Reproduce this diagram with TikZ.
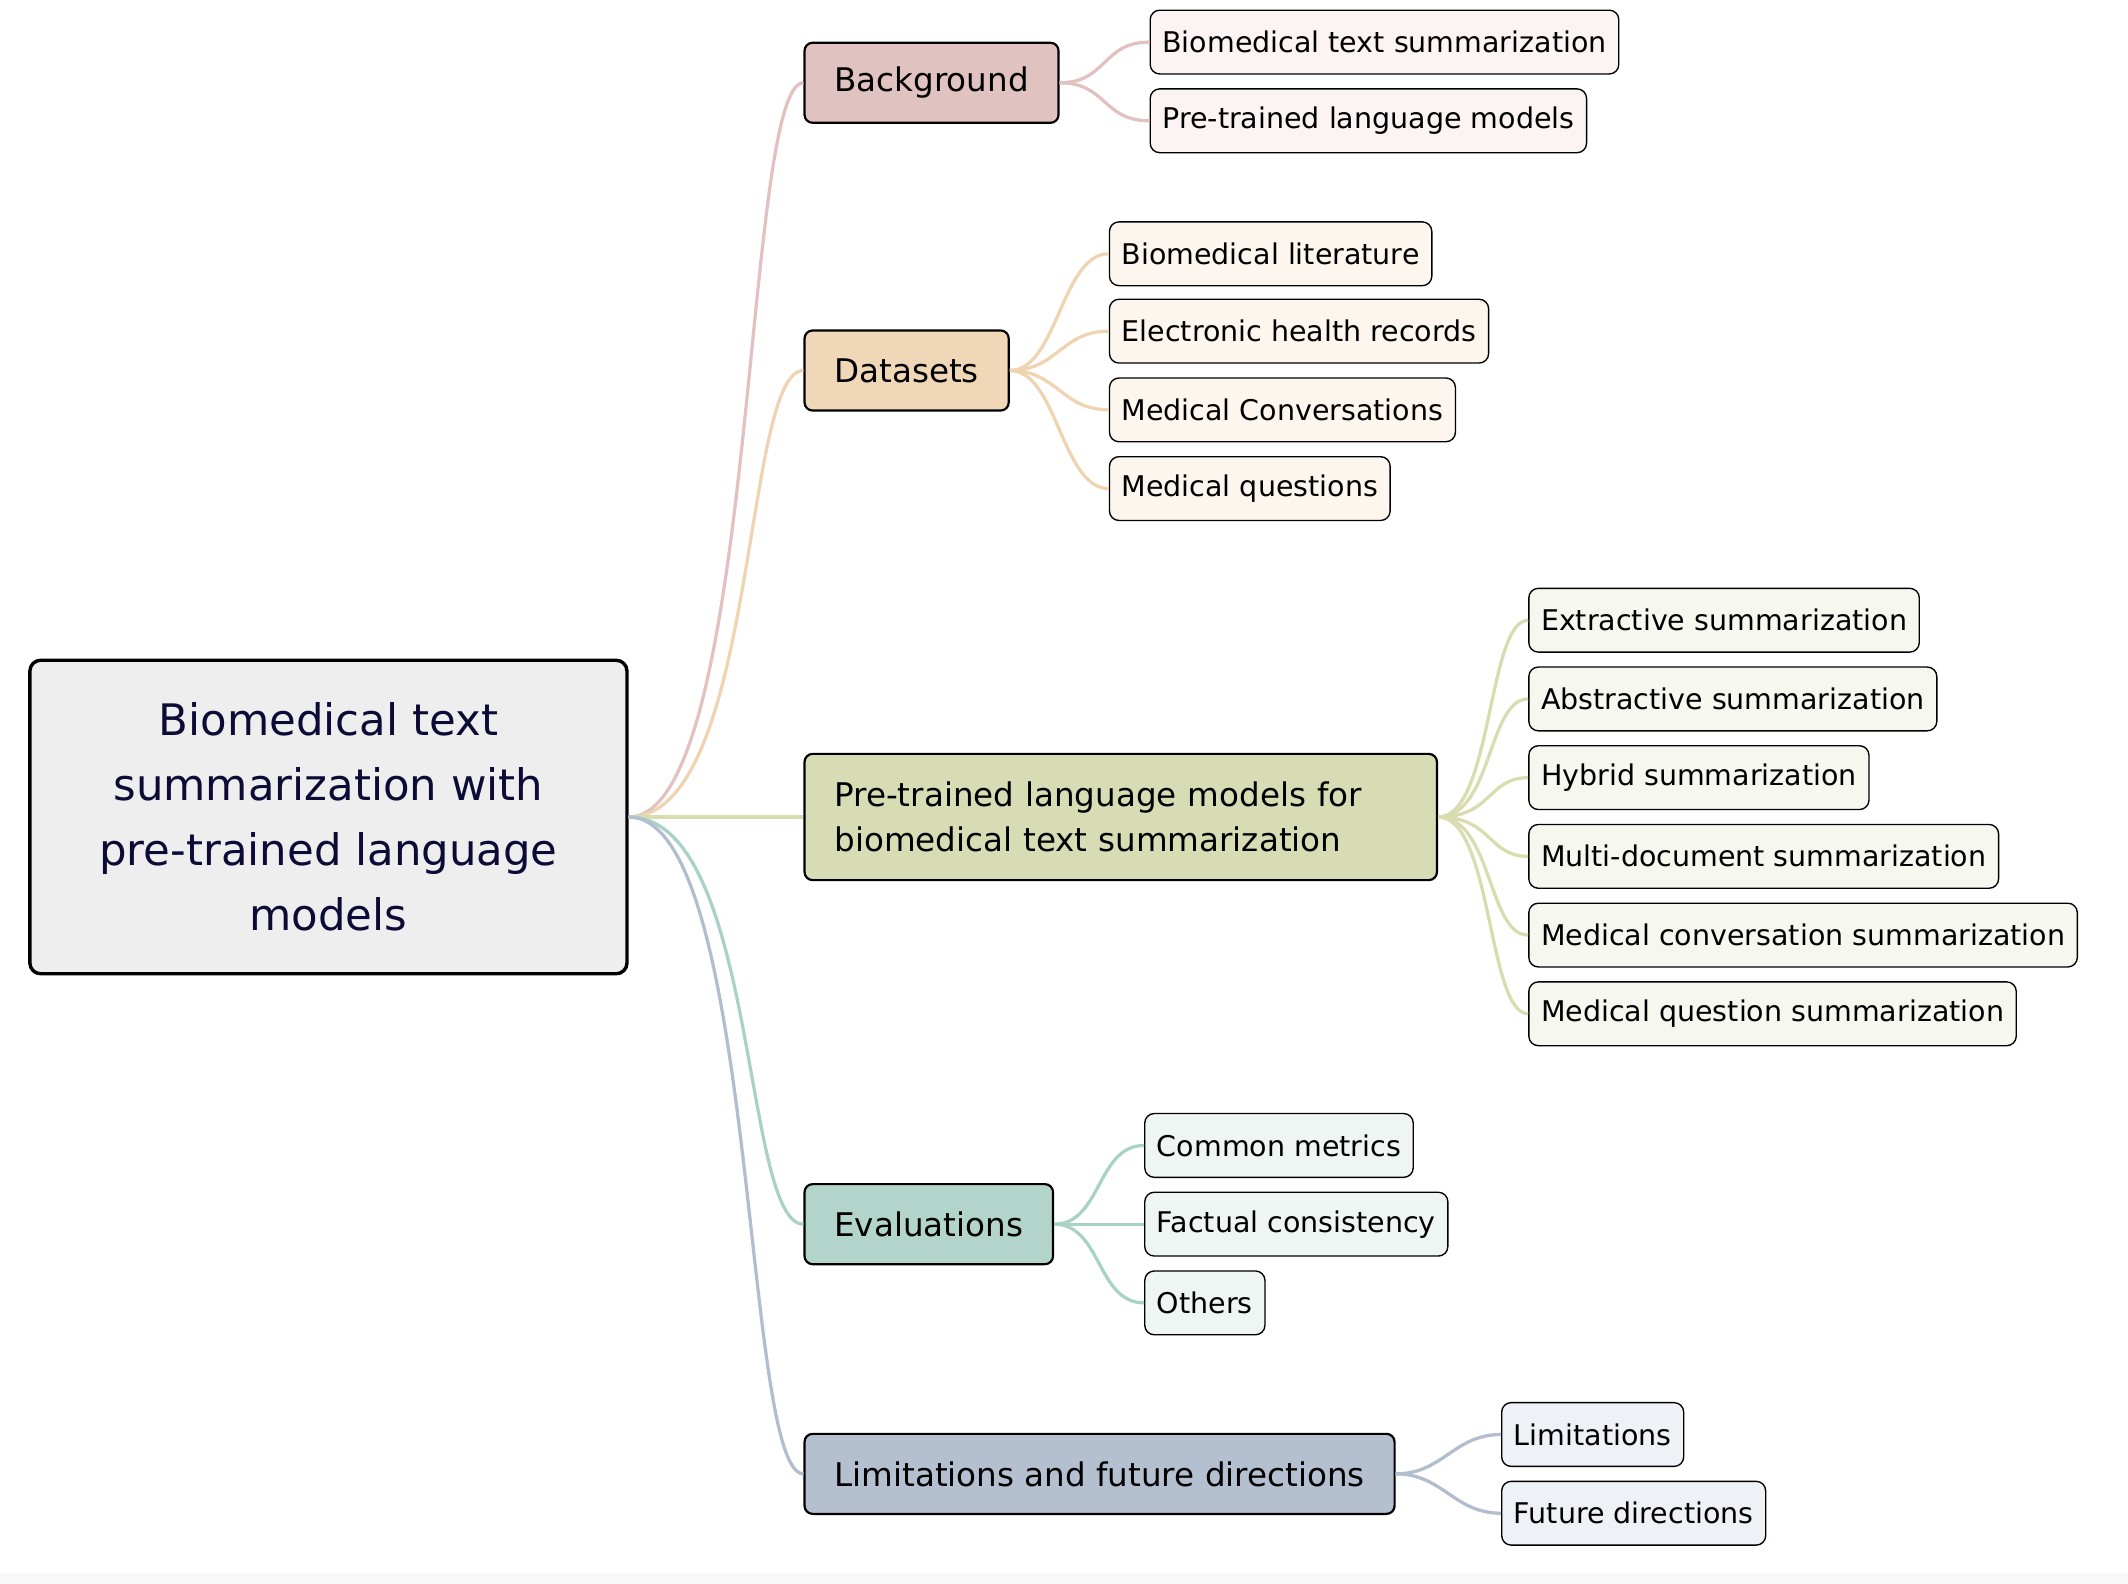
\documentclass[tikz,border=0pt]{standalone}
\usepackage{fontspec}
\setmainfont{DejaVu Sans}
\usepackage{tikz}
\definecolor{inkblue}{HTML}{0B0B35}
\definecolor{rootfill}{HTML}{EEEEEE}
\definecolor{bgmain}{HTML}{E0C3C1}
\definecolor{bgleaf}{HTML}{FBF4F2}
\definecolor{bgline}{HTML}{E2C2C0}
\definecolor{dsmain}{HTML}{EFD7B8}
\definecolor{dsleaf}{HTML}{FDF6EE}
\definecolor{dsline}{HTML}{EED4B0}
\definecolor{plmmain}{HTML}{D8DCB5}
\definecolor{plmleaf}{HTML}{F6F7EE}
\definecolor{plmline}{HTML}{D8DCAE}
\definecolor{evmain}{HTML}{B2D4CB}
\definecolor{evleaf}{HTML}{EEF5F3}
\definecolor{evline}{HTML}{A9D2C6}
\definecolor{limmain}{HTML}{B4BFCF}
\definecolor{limleaf}{HTML}{EEF1F6}
\definecolor{limline}{HTML}{B2BDCE}

\begin{document}
\begin{tikzpicture}[
    x=1pt, y=-1pt,
    root/.style={draw, line width=2.5pt, rounded corners=8pt, fill=rootfill, text=inkblue, font=\fontsize{32}{48}\selectfont, align=center, minimum width=440pt, minimum height=231pt},
    topic/.style={draw, line width=1.6pt, rounded corners=6pt, fill=#1, font=\fontsize{24}{33}\selectfont, minimum height=59pt, inner xsep=22pt, anchor=west},
    leaf/.style={draw, line width=1pt, rounded corners=7pt, fill=#1, font=\fontsize{21}{24}\selectfont, minimum height=47pt, inner xsep=9pt, anchor=west},
    link/.style={line width=2.4pt, #1}
]
\useasboundingbox (0,0) rectangle (1568,1167);
\fill[gray!5] (0,1159) rectangle (1568,1167);

\node[root] (summ) at (242, 602) {Biomedical text\\summarization with\\pre-trained language\\models};

% topics
\node[topic=bgmain] (bg) at (592, 61) {Background};
\node[topic=dsmain] (ds) at (592, 273) {Datasets};
\node[topic=plmmain, text width=422pt, align=left, minimum height=93pt] (plm) at (592, 602) {Pre-trained language models for\\biomedical text summarization};
\node[topic=evmain] (ev) at (592, 902) {Evaluations};
\node[topic=limmain] (lim) at (592, 1086) {Limitations and future directions};

\draw[link=bgline] (summ.east) .. controls +(95,0) and +(-45,0) .. (bg.west);
\draw[link=dsline] (summ.east) .. controls +(95,0) and +(-45,0) .. (ds.west);
\draw[link=plmline] (summ.east) -- (plm.west);
\draw[link=evline] (summ.east) .. controls +(95,0) and +(-45,0) .. (ev.west);
\draw[link=limline] (summ.east) .. controls +(95,0) and +(-45,0) .. (lim.west);

% background
\node[leaf=bgleaf] (bgtext) at (847, 31) {Biomedical text summarization};
\node[leaf=bgleaf] (bgplm) at (847, 89) {Pre-trained language models};
\draw[link=bgline] (bg.east) .. controls +(35,0) and +(-35,0) .. (bgtext.west);
\draw[link=bgline] (bg.east) .. controls +(35,0) and +(-35,0) .. (bgplm.west);

% datasets
\node[leaf=dsleaf] (dslit) at (817, 187) {Biomedical literature};
\node[leaf=dsleaf] (dsehr) at (817, 244) {Electronic health records};
\node[leaf=dsleaf] (dsconv) at (817, 302) {Medical Conversations};
\node[leaf=dsleaf] (dsques) at (817, 360) {Medical questions};
\draw[link=dsline] (ds.east) .. controls +(35,0) and +(-35,0) .. (dslit.west);
\draw[link=dsline] (ds.east) .. controls +(35,0) and +(-35,0) .. (dsehr.west);
\draw[link=dsline] (ds.east) .. controls +(35,0) and +(-35,0) .. (dsconv.west);
\draw[link=dsline] (ds.east) .. controls +(35,0) and +(-35,0) .. (dsques.west);

% methods
\node[leaf=plmleaf] (extr) at (1126, 457) {Extractive summarization};
\node[leaf=plmleaf] (abst) at (1126, 515) {Abstractive summarization};
\node[leaf=plmleaf] (hybr) at (1126, 573) {Hybrid summarization};
\node[leaf=plmleaf] (multi) at (1126, 631) {Multi-document summarization};
\node[leaf=plmleaf] (mconv) at (1126, 689) {Medical conversation summarization};
\node[leaf=plmleaf] (mques) at (1126, 747) {Medical question summarization};
\draw[link=plmline] (plm.east) .. controls +(40,0) and +(-30,0) .. (extr.west);
\draw[link=plmline] (plm.east) .. controls +(40,0) and +(-30,0) .. (abst.west);
\draw[link=plmline] (plm.east) .. controls +(40,0) and +(-30,0) .. (hybr.west);
\draw[link=plmline] (plm.east) .. controls +(40,0) and +(-30,0) .. (multi.west);
\draw[link=plmline] (plm.east) .. controls +(40,0) and +(-30,0) .. (mconv.west);
\draw[link=plmline] (plm.east) .. controls +(40,0) and +(-30,0) .. (mques.west);

% evaluations
\node[leaf=evleaf] (metr) at (843, 844) {Common metrics};
\node[leaf=evleaf] (fact) at (843, 902) {Factual consistency};
\node[leaf=evleaf] (othr) at (843, 960) {Others};
\draw[link=evline] (ev.east) .. controls +(35,0) and +(-35,0) .. (metr.west);
\draw[link=evline] (ev.east) -- (fact.west);
\draw[link=evline] (ev.east) .. controls +(35,0) and +(-35,0) .. (othr.west);

% limitations
\node[leaf=limleaf] (limi) at (1106, 1057) {Limitations};
\node[leaf=limleaf] (futu) at (1106, 1115) {Future directions};
\draw[link=limline] (lim.east) .. controls +(35,0) and +(-35,0) .. (limi.west);
\draw[link=limline] (lim.east) .. controls +(35,0) and +(-35,0) .. (futu.west);
\end{tikzpicture}
\end{document}
